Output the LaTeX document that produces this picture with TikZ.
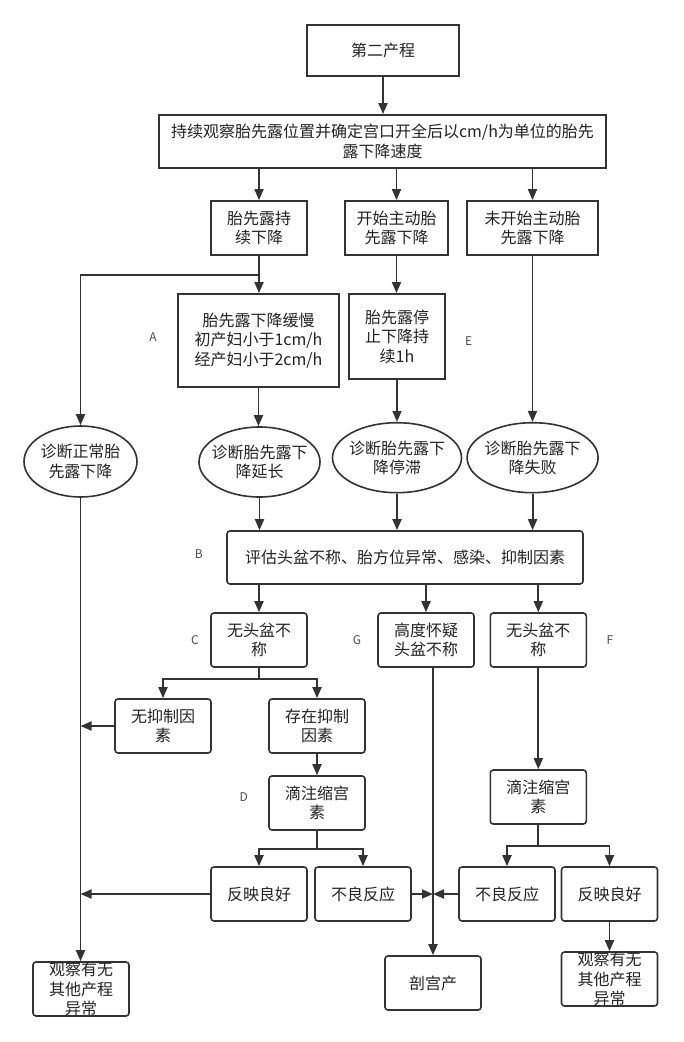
\documentclass[tikz,border=0pt]{standalone}
\usepackage{fontspec}
\setmainfont{Noto Sans CJK SC}
\usetikzlibrary{arrows.meta,shapes.geometric}
\definecolor{lc}{HTML}{333333}
\definecolor{tc}{HTML}{222222}
\begin{document}
\begin{tikzpicture}[x=1pt,y=-1pt,
 every node/.style={font=\fontsize{16}{19.5}\selectfont, text=tc, align=center, inner sep=0pt},
 sq/.style={draw=lc, line width=1.8pt, rectangle},
 rd/.style={draw=lc, line width=1.6pt, rectangle, rounded corners=3pt, minimum width=96pt, minimum height=54pt},
 el/.style={draw=lc, line width=1.6pt, ellipse},
 arr/.style={draw=lc, line width=1.8pt, -{Triangle[length=11pt,width=9pt]}},
 lbl/.style={font=\fontsize{12}{14}\selectfont, text=black!70}]
\useasboundingbox[fill=white] (0,0) rectangle (684,1042);

% top part
\node[sq, minimum width=152pt, minimum height=51pt] (top) at (383,50.5) {第二产程};
\node[sq, minimum width=447pt, minimum height=53pt] (main) at (382.5,141.5) {持续观察胎先露位置并确定宫口开全后以cm/h为单位的胎先\\露下降速度};
\node[sq, minimum width=96pt, minimum height=54pt] (r1) at (259,228) {胎先露持\\续下降};
\node[sq, minimum width=103pt, minimum height=54pt] (r2) at (396.5,228) {开始主动胎\\先露下降};
\node[sq, minimum width=131pt, minimum height=54pt] (r3) at (532.5,228) {未开始主动胎\\先露下降};
\node[sq, minimum width=161pt, minimum height=93pt] (slow) at (258.5,340.5) {胎先露下降缓慢\\初产妇小于1cm/h\\经产妇小于2cm/h};
\node[sq, minimum width=96pt, minimum height=85pt] (stop) at (397,336.5) {胎先露停\\止下降持\\续1h};

% ellipses
\node[el, minimum width=113pt, minimum height=71pt] (e0) at (80.5,461.5) {};
\node at (e0) {诊断正常胎\\先露下降};
\node[el, minimum width=121pt, minimum height=70pt] (e1) at (259.5,462) {};
\node at (e1) {诊断胎先露下\\降延长};
\node[el, minimum width=129pt, minimum height=70pt] (e2) at (397,457.7) {};
\node at (e2) {诊断胎先露下\\降停滞};
\node[el, minimum width=131pt, minimum height=70pt] (e3) at (532.6,457.7) {};
\node at (e3) {诊断胎先露下\\降失败};

% lower part
\node[rd, minimum width=356pt, minimum height=53pt] (B) at (405,557.5) {评估头盆不称、胎方位异常、感染、抑制因素};
\node[rd] (C) at (259,640) {无头盆不\\称};
\node[rd] (G) at (426,640) {高度怀疑\\头盆不称};
\node[rd] (F) at (538.3,640) {无头盆不\\称};
\node[rd] (nozhi) at (163,726) {无抑制因\\素};
\node[rd] (cunzai) at (317,726) {存在抑制\\因素};
\node[rd] (D) at (317,803) {滴注缩宫\\素};
\node[rd] (FD) at (538.3,797) {滴注缩宫\\素};
\node[rd] (goodL) at (259,894) {反映良好};
\node[rd] (badL) at (363,894) {不良反应};
\node[rd] (badF) at (507,894) {不良反应};
\node[rd] (goodF) at (609.5,894) {反映良好};
\node[rd] (obsL) at (81,989) {观察有无\\其他产程\\异常};
\node[rd] (pgc) at (433,983) {剖宫产};
\node[rd] (obsR) at (609.5,979) {观察有无\\其他产程\\异常};

% labels
\node[lbl] (la) at (153,337) {A};
\node[lbl] (le) at (468.6,341) {E};
\node[lbl] (lb) at (198.7,554) {B};
\node[lbl] (lcc) at (195,640) {C};
\node[lbl] (lg) at (357,640) {G};
\node[lbl] (lf) at (610,640) {F};
\node[lbl] (ld) at (243.7,797) {D};

% connectors
\draw[arr] (top.south) -- (top.south |- main.north);
\draw[arr] (r1.north |- main.south) -- (r1.north);
\draw[arr] (r2.north |- main.south) -- (r2.north);
\draw[arr] (r3.north |- main.south) -- (r3.north);
\draw[arr] (r1.south) -- (r1.south |- slow.north);
\draw[arr] (r1.south) -- ++(0,19) -| (e0.north);
\draw[arr] (r2.south) -- (r2.south |- stop.north);
\draw[arr] (r3.south) -- (r3.south |- e3.north);
\draw[arr] (slow.south) -- (slow.south |- e1.north);
\draw[arr] (stop.south) -- (stop.south |- e2.north);
\draw[arr] (e1.south) -- (e1.south |- B.north);
\draw[arr] (e2.south) -- (e2.south |- B.north);
\draw[arr] (e3.south) -- (e3.south |- B.north);
\draw[arr] (e0.south) -- (e0.south |- obsL.north);
\draw[arr] (C.north |- B.south) -- (C.north);
\draw[arr] (G.north |- B.south) -- (G.north);
\draw[arr] (F.north |- B.south) -- (F.north);
\draw[arr] (C.south) -- ++(0,11) -| (nozhi.north);
\draw[arr] (C.south) -- ++(0,11) -| (cunzai.north);
\draw[arr] (nozhi.west) -- (nozhi.west -| e0.south);
\draw[arr] (cunzai.south) -- (D.north);
\draw[arr] (D.south) -- ++(0,18) -| (goodL.north);
\draw[arr] (D.south) -- ++(0,18) -| (badL.north);
\draw[arr] (goodL.west) -- (goodL.west -| e0.south);
\draw[arr] (pgc.north |- G.south) -- (pgc.north);
\draw[arr] (badL.east) -- (badL.east -| pgc.north);
\draw[arr] (badF.west) -- (badF.west -| pgc.north);
\draw[arr] (F.south) -- (FD.north);
\draw[arr] (FD.south) -- ++(0,21) -| (badF.north);
\draw[arr] (FD.south) -- ++(0,21) -| (goodF.north);
\draw[arr] (goodF.south) -- (obsR.north);
\end{tikzpicture}
\end{document}
